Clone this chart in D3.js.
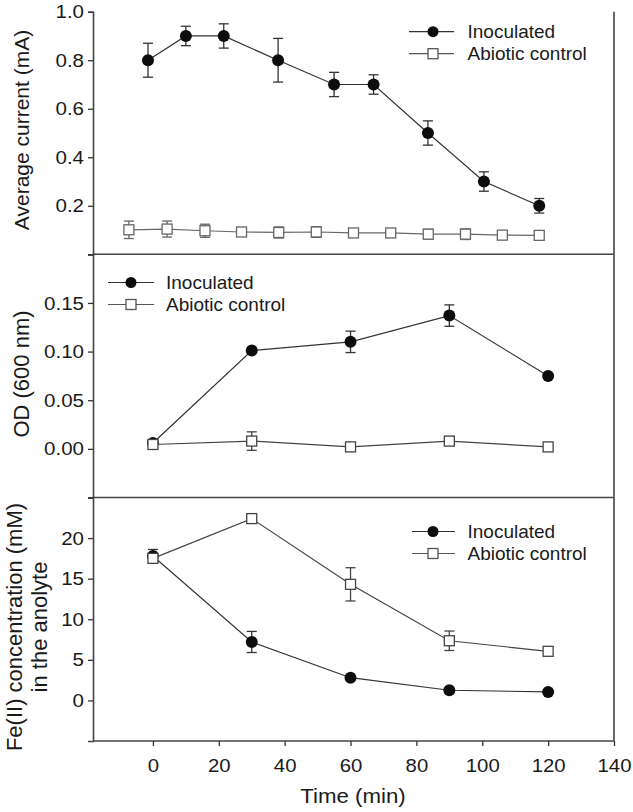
<!DOCTYPE html>
<html><head><meta charset="utf-8">
<script src="https://cdn.jsdelivr.net/npm/d3@7"></script>
<style>
html,body{margin:0;padding:0;background:#fff;}
svg{display:block;font-family:"Liberation Sans",Arial,sans-serif;}
</style></head>
<body><svg id="c" width="633" height="812"></svg>
<script>
// ---- data ----
const seriesNames = ["Inoculated", "Abiotic control"];
// Panel A: average current
const timeCurInoc = [-1.5, 10, 21.5, 38, 55, 67, 83.5, 100.5, 117.3];
const curInoc    = [0.80, 0.90, 0.90, 0.80, 0.70, 0.70, 0.50, 0.30, 0.20];
const curInocErr = [0.07, 0.04, 0.05, 0.09, 0.05, 0.04, 0.05, 0.04, 0.03];
const timeCurAbio = [-7.3, 4.3, 15.8, 26.9, 38.2, 49.6, 60.9, 72.2, 83.6, 94.9, 106.1, 117.3];
const curAbio    = [0.101, 0.104, 0.097, 0.092, 0.090, 0.092, 0.088, 0.088, 0.083, 0.083, 0.079, 0.078];
const curAbioErr = [0.036, 0.033, 0.027, 0.017, 0.023, 0.022, 0, 0, 0.02, 0.022, 0, 0];
// Panel B: OD 600
const timeOD = [0, 30, 60, 90, 120];
const odInoc    = [0.006, 0.101, 0.110, 0.137, 0.075];
const odInocErr = [0, 0, 0.011, 0.011, 0];
const odAbio    = [0.0045, 0.008, 0.002, 0.008, 0.002];
const odAbioErr = [0, 0.0095, 0, 0, 0];
// Panel C: Fe(II)
const timeFe = [0, 30, 60, 90, 120];
const feInoc    = [17.8, 7.2, 2.8, 1.25, 1.05];
const feInocErr = [0.8, 1.3, 0, 0, 0];
const feAbio    = [17.5, 22.4, 14.3, 7.35, 6.05];
const feAbioErr = [0, 0, 2.05, 1.2, 0];
// ticks
const xTicks = [0, 20, 40, 60, 80, 100, 120, 140];
const curTicks = [0.2, 0.4, 0.6, 0.8, 1.0];
const odTicks = [0.00, 0.05, 0.10, 0.15];
const feTicks = [0, 5, 10, 15, 20];

// ---- layout ----
const svg = d3.select("#c");
const L = 93, R = 614;
const x = d3.scaleLinear().domain([-18.2, 140]).range([L, R]);
const panels = [
  {y: d3.scaleLinear().domain([0, 1.0]).range([254.3, 11.7]), ticks: curTicks, extra: [0], fmt: d3.format(".1f")},
  {y: d3.scaleLinear().domain([-0.05, 0.2]).range([497.5, 254.3]), ticks: odTicks, extra: [0.2], fmt: d3.format(".2f")},
  {y: d3.scaleLinear().domain([-5, 25]).range([741, 497.5]), ticks: feTicks, extra: [25], fmt: d3.format("d")}
];
const ink = "#1a1a1a";
function stretch(sel, k) {
  sel.each(function () {
    const l = this.getComputedTextLength();
    if (l > 0) { this.setAttribute("textLength", l * k); this.setAttribute("lengthAdjust", "spacingAndGlyphs"); }
  });
}

// frame
panels.forEach((p, i) => {
  const g = svg.append("g");
  const ax = d3.axisLeft(p.y).tickValues(p.ticks.concat(p.extra)).tickSize(5).tickPadding(4)
    .tickFormat(d => p.ticks.includes(d) ? p.fmt(d) : "");
  const ga = g.append("g").attr("transform", `translate(${L},0)`).call(ax);
  ga.select(".domain").attr("stroke", "#444").attr("stroke-width", 1.6);
  ga.selectAll(".tick line").attr("stroke", "#333").attr("stroke-width", 1.3);
  const tt = ga.selectAll(".tick text").attr("fill", ink).style("font-size", "19px").style("font-family", "Liberation Sans, Arial, sans-serif");
  stretch(tt, 1.08);
  g.append("line").attr("x1", R).attr("x2", R).attr("y1", p.y.range()[1]).attr("y2", p.y.range()[0])
    .attr("stroke", "#444").attr("stroke-width", 1.6);
  if (i < 2) g.append("line").attr("x1", L).attr("x2", R).attr("y1", p.y.range()[0]).attr("y2", p.y.range()[0])
    .attr("stroke", "#444").attr("stroke-width", 1.6);
});

// x axis
const xa = svg.append("g").attr("transform", "translate(0,741)")
  .call(d3.axisBottom(x).tickValues(xTicks).tickSize(5).tickPadding(13).tickFormat(d3.format("d")));
xa.select(".domain").attr("stroke", "#444").attr("stroke-width", 1.6).attr("d", `M${L},0H${R}`);
xa.selectAll(".tick line").attr("stroke", "#333").attr("stroke-width", 1.3);
stretch(xa.selectAll(".tick text").attr("fill", ink).style("font-size", "19px"), 1.07);

// series drawing
function drawSeries(p, xs, ys, es, type, col) {
  const g = svg.append("g");
  const line = d3.line().x((d, i) => x(xs[i])).y(d => p.y(d));
  g.append("path").datum(ys).attr("d", line).attr("fill", "none").attr("stroke", col).attr("stroke-width", 1.2);
  ys.forEach((v, i) => {
    if (!es[i]) return;
    const cx = x(xs[i]), y1 = p.y(v + es[i]), y2 = p.y(v - es[i]);
    g.append("line").attr("x1", cx).attr("x2", cx).attr("y1", y1).attr("y2", y2).attr("stroke", col).attr("stroke-width", 1.3);
    [y1, y2].forEach(yy => g.append("line").attr("x1", cx - 5).attr("x2", cx + 5).attr("y1", yy).attr("y2", yy)
      .attr("stroke", col).attr("stroke-width", 1.3));
  });
  ys.forEach((v, i) => marker(g, x(xs[i]), p.y(v), type, col, 6, 5));
}
function marker(g, cx, cy, type, col, r, h) {
  if (type === "circle") g.append("circle").attr("cx", cx).attr("cy", cy).attr("r", r).attr("fill", "#0d0d0d");
  else g.append("rect").attr("x", cx - h).attr("y", cy - h).attr("width", 2 * h).attr("height", 2 * h)
    .attr("fill", "#fff").attr("stroke", col).attr("stroke-width", 1.3);
}
function legend(lx1, lx2, mx, ty, tx) {
  const g = svg.append("g");
  seriesNames.forEach((n, i) => {
    const yy = ty + i * 22;
    const col = i === 0 ? "#333" : "#555";
    g.append("line").attr("x1", lx1).attr("x2", lx2).attr("y1", yy).attr("y2", yy).attr("stroke", col).attr("stroke-width", 1.2);
    marker(g, mx, yy, i === 0 ? "circle" : "square", col, 5.5, 5);
    g.append("text").attr("x", tx).attr("y", yy).attr("dy", "0.35em").attr("fill", ink)
      .style("font-size", "19px").text(n);
  });
}

drawSeries(panels[0], timeCurInoc, curInoc, curInocErr, "circle", "#333");
drawSeries(panels[0], timeCurAbio, curAbio, curAbioErr, "square", "#666");
drawSeries(panels[1], timeOD, odInoc, odInocErr, "circle", "#333");
drawSeries(panels[1], timeOD, odAbio, odAbioErr, "square", "#444");
drawSeries(panels[2], timeFe, feInoc, feInocErr, "circle", "#333");
drawSeries(panels[2], timeFe, feAbio, feAbioErr, "square", "#444");

legend(409, 454, 433, 31.7, 467.5);
legend(108, 154, 131, 282.5, 166);
legend(412, 455, 433, 531.5, 467.5);

// axis titles
function ytitle(lines, cx, cy, fs, lh) {
  const t = svg.append("text").attr("transform", `translate(${cx},${cy}) rotate(-90)`)
    .attr("text-anchor", "middle").attr("fill", ink).style("font-size", fs + "px");
  lines.forEach((s, i) => t.append("tspan").attr("x", 0).attr("dy", i === 0 ? "0.35em" : lh + "em").text(s));
}
ytitle(["Average current (mA)"], 22, 130, 21, 1.2);
ytitle(["OD (600 nm)"], 21.5, 374, 22, 1.2);
ytitle(["Fe(II) concentration (mM)", "in the anolyte"], 14, 627, 22, 1.15);
stretch(svg.append("text").attr("x", 353).attr("y", 796).attr("dy", "0.35em").attr("text-anchor", "middle")
  .attr("fill", ink).style("font-size", "21px").text("Time (min)"), 1.06);
</script></body></html>
